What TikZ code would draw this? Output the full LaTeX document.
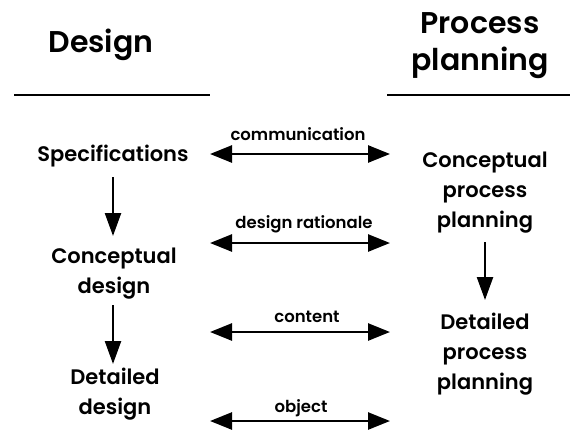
\documentclass[tikz,border=0pt]{standalone}
\usepackage{fontspec}
\setmainfont{Poppins}[BoldFont={* SemiBold}]
\usetikzlibrary{arrows.meta}
\begin{document}
\begin{tikzpicture}[x=1pt,y=-1pt,
  head/.style={font=\fontsize{30}{37}\selectfont\bfseries, align=center, inner sep=0pt},
  stage/.style={font=\fontsize{21}{30}\selectfont\bfseries, align=center, inner sep=0pt},
  lbl/.style={font=\fontsize{16.5}{18}\selectfont\bfseries, inner sep=0pt, anchor=base},
  flow/.style={line width=2.4pt, -{Triangle[length=23pt,width=16pt]}},
  link/.style={line width=2.6pt, {Triangle[length=22pt,width=17pt]}-{Triangle[length=22pt,width=17pt]}},
  rule/.style={line width=1.2pt}]
\useasboundingbox (0,0) rectangle (580,447);
\node[head, anchor=base] (hd) at (101,52) {Design};
\node[head] (hp) at (480,46) {Process\\planning};
\coordinate (r1a) at (14,95); \coordinate (r1b) at (210,95);
\coordinate (r2a) at (387,95); \coordinate (r2b) at (570,95);
\draw[rule] (r1a) -- (r1b);
\draw[rule] (r2a) -- (r2b);
\node[stage, anchor=base] (spec) at (113,161) {Specifications};
\node[stage] (cd) at (114,274) {Conceptual\\design};
\node[stage] (dd) at (115,394) {Detailed\\design};
\node[stage] (cpp) at (485,193) {Conceptual\\process\\planning};
\node[stage] (dpp) at (485,354) {Detailed\\process\\planning};
\coordinate (a1s) at (113,177); \coordinate (a1e) at (113,236);
\coordinate (a2s) at (113,305); \coordinate (a2e) at (113,364);
\coordinate (a3s) at (485,242); \coordinate (a3e) at (485,300);
\draw[flow] (a1s) -- (a1e);
\draw[flow] (a2s) -- (a2e);
\draw[flow] (a3s) -- (a3e);
\foreach \n/\y/\t/\lx/\ly in {1/154/communication/298/140, 2/243/design rationale/304/228, 3/332/content/307/322, 4/421/object/301/412}{
  \coordinate (L\n) at (210,\y); \coordinate (R\n) at (390,\y);
  \draw[link] (L\n) -- (R\n);
  \node[lbl] (t\n) at (\lx,\ly) {\t};
}
\end{tikzpicture}
\end{document}
